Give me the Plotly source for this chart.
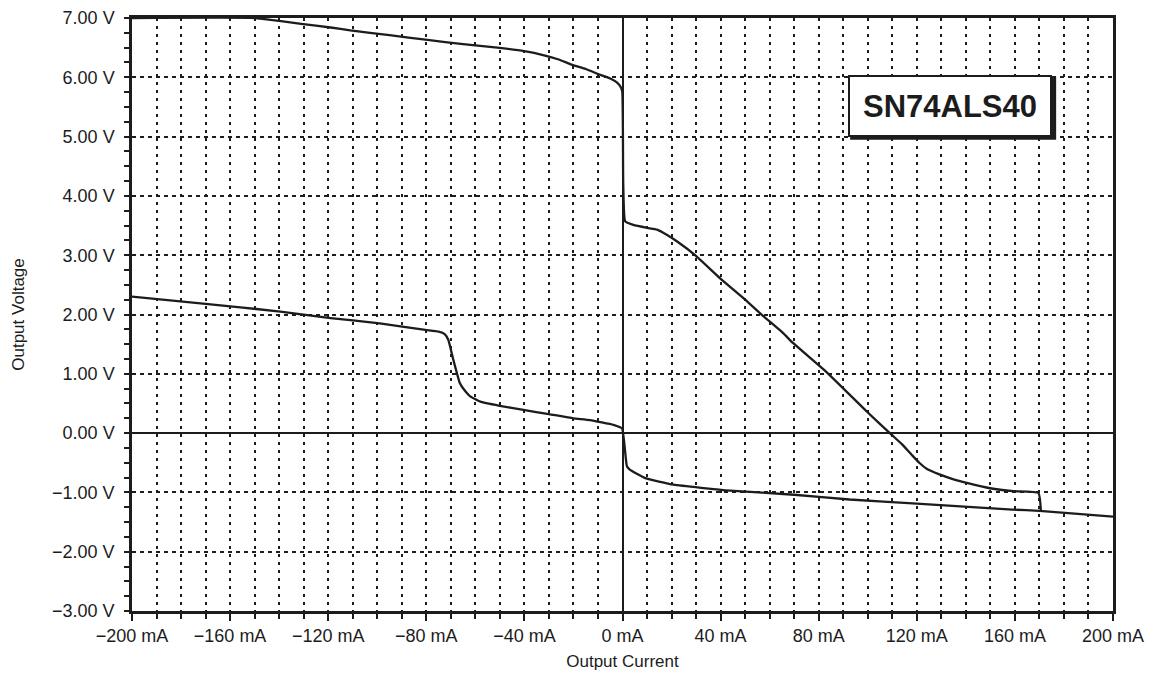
import plotly.graph_objects as go

# ---- data (mA, V) ----
upper_current = [-200, -150, -140, -131, -119, -111, -95, -79.5, -65, -51, -40, -32, -26, -20.5,
                 -15, -10.2, -5, -2.2, -0.8, -0.1, 0.3, 1.1, 4.4, 10.1, 14.1, 18.2, 22.3, 29.6, 39.8,
                 49.2, 56.9, 65.4, 69.5, 83.4, 99.7, 109, 114, 118, 121, 124, 129.5, 135, 140.4,
                 149.9, 159.4, 169.6, 170.6]
upper_voltage = [7.0, 7.0, 6.95, 6.90, 6.84, 6.79, 6.71, 6.63, 6.56, 6.50, 6.44, 6.37, 6.30, 6.21,
                 6.14, 6.06, 5.98, 5.91, 5.84, 5.76, 4.2, 3.57, 3.51, 3.46, 3.43, 3.34, 3.23, 3.00, 2.61,
                 2.28, 1.99, 1.69, 1.52, 1.02, 0.36, 0.0, -0.19, -0.37, -0.50, -0.60, -0.70, -0.78, -0.84,
                 -0.93, -0.98, -1.01, -1.31]

lower_current = [-200, -170, -139.5, -119, -99, -80.4, -75, -72.5, -71, -69, -66.3, -64, -62.1, -58, -50,
                 -40.4, -30, -20, -13.3, -3.7, -0.2, 1.8, 3.1, 9.3, 20.8, 43.9, 70, 92.6, 120,
                 159, 170, 200]
lower_voltage = [2.30, 2.18, 2.05, 1.94, 1.85, 1.74, 1.71, 1.67, 1.57, 1.24, 0.84, 0.70, 0.62, 0.53, 0.46,
                 0.39, 0.32, 0.25, 0.22, 0.14, 0.08, -0.56, -0.62, -0.76, -0.87, -0.97, -1.04, -1.12, -1.19,
                 -1.29, -1.31, -1.41]

x_tick_vals = [-200, -160, -120, -80, -40, 0, 40, 80, 120, 160, 200]
x_tick_text = ["\u2212200 mA", "\u2212160 mA", "\u2212120 mA", "\u221280 mA", "\u221240 mA", "0 mA",
               "40 mA", "80 mA", "120 mA", "160 mA", "200 mA"]
y_tick_vals = [7, 6, 5, 4, 3, 2, 1, 0, -1, -2, -3]
y_tick_text = ["7.00 V", "6.00 V", "5.00 V", "4.00 V", "3.00 V", "2.00 V", "1.00 V", "0.00 V",
               "\u22121.00 V", "\u22122.00 V", "\u22123.00 V"]

label_text = "SN74ALS40"

INK = "#1c1c1c"
FONT = "Liberation Sans, Arial, sans-serif"

fig = go.Figure()
for xs, ys in [(upper_current, upper_voltage), (lower_current, lower_voltage)]:
    fig.add_trace(go.Scatter(x=xs, y=ys, mode="lines", line=dict(color=INK, width=2.3, shape="spline", smoothing=0.4),
                             showlegend=False, hoverinfo="skip", cliponaxis=True))

fig.update_layout(
    width=1153, height=685,
    margin=dict(l=124, r=48, t=10, b=82, autoexpand=False),
    paper_bgcolor="white", plot_bgcolor="white",
    font=dict(family=FONT, color=INK, size=15),
    xaxis=dict(
        range=[-200, 200], tickmode="array", tickvals=x_tick_vals, ticktext=x_tick_text,
        automargin=False,
        showgrid=True, gridcolor=INK, gridwidth=2, griddash="3px,5px",
        ticks="outside", ticklen=7, tickwidth=2, tickcolor=INK,
        showline=True, linecolor=INK, linewidth=2.5, mirror=True,
        zeroline=True, zerolinecolor=INK, zerolinewidth=2,
        tickfont=dict(size=18),
        minor=dict(tickmode="linear", tick0=0, dtick=10, showgrid=True, gridcolor=INK,
                   gridwidth=2, griddash="3px,5px", ticks="outside", ticklen=5, tickwidth=2,
                   tickcolor=INK),
        title=dict(text="Output Current", font=dict(size=17), standoff=10),
    ),
    yaxis=dict(
        range=[-3, 7], tickmode="array", tickvals=y_tick_vals, ticktext=y_tick_text,
        automargin=False, ticklabelstandoff=6,
        showgrid=True, gridcolor=INK, gridwidth=2, griddash="4px,4px",
        ticks="outside", ticklen=5, tickwidth=2, tickcolor=INK,
        showline=True, linecolor=INK, linewidth=2.5, mirror=True,
        zeroline=True, zerolinecolor=INK, zerolinewidth=2,
        tickfont=dict(size=18),
        minor=dict(tickmode="linear", tick0=0, dtick=0.25, showgrid=False, ticks="outside",
                   ticklen=5, tickwidth=2, tickcolor=INK),
        title=dict(text="Output Voltage", font=dict(size=17), standoff=24),
    ),
)

# shadow behind label box
fig.add_shape(type="rect", xref="x", yref="y", xsizemode="pixel", ysizemode="pixel",
              xanchor=133.6, yanchor=5.52, x0=-100, x1=106, y0=-34, y1=29,
              fillcolor=INK, line=dict(width=0), layer="above")
fig.add_annotation(x=133.6, y=5.52, xref="x", yref="y", text="<b>" + label_text + "</b>",
                   showarrow=False, font=dict(size=31, color=INK, family=FONT),
                   bgcolor="white", bordercolor=INK, borderwidth=2, borderpad=0,
                   width=200, height=58, align="center", valign="middle")

fig.write_html("out.html")
